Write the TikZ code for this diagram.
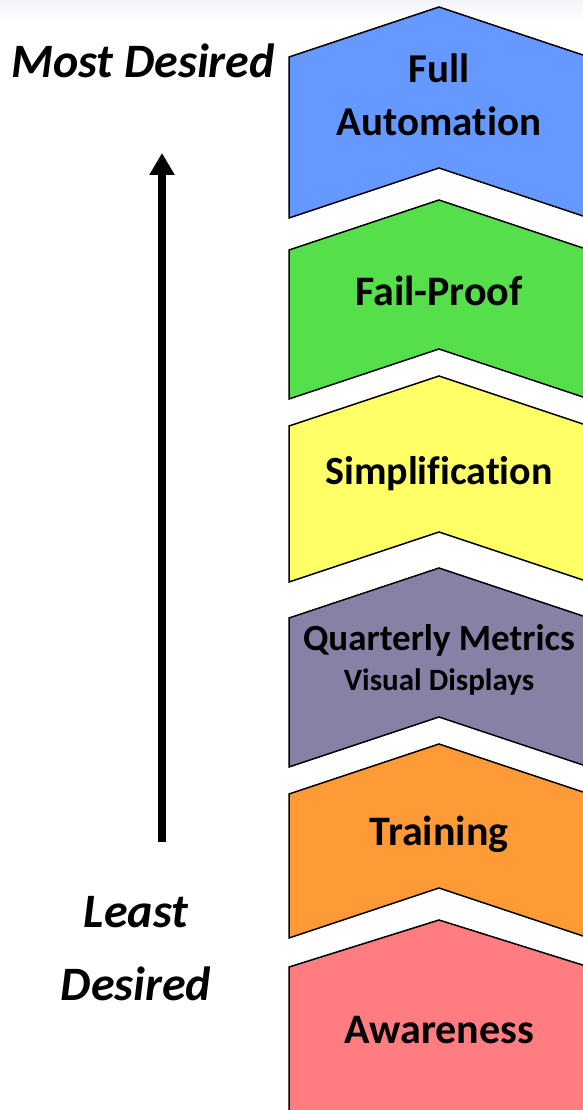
\documentclass[tikz,border=0pt]{standalone}
\usepackage{fontspec}
\setmainfont{Carlito}[Ligatures={NoCommon}]
\usepackage{tikz}
\usetikzlibrary{arrows.meta,calc,positioning}

\definecolor{lvlblue}{HTML}{6699FF}
\definecolor{lvlgreen}{HTML}{55DF4B}
\definecolor{lvlyellow}{HTML}{FFFF66}
\definecolor{lvlpurple}{HTML}{8781A6}
\definecolor{lvlorange}{HTML}{FF9B36}
\definecolor{lvlred}{HTML}{FF7C80}
\definecolor{topband}{HTML}{F2F4F9}

% chevron: fill colour, apex y, notch y
\newcommand{\chev}[3]{%
  \draw[lvl, fill=#1] (289,#2+50) -- (439,#2) -- (589,#2+50) -- (589,#3+50)
      -- (439,#3) -- (289,#3+50) -- cycle;}

\begin{document}
\begin{tikzpicture}[x=1pt, y=-1pt,
    lvl/.style={draw=black, line width=1.5pt, line join=miter},
    txt/.style={anchor=base, inner sep=0pt, font=\bfseries},
    side/.style={anchor=base, inner sep=0pt, font=\bfseries\itshape\fontsize{48}{52}\selectfont}]

    \useasboundingbox (0,0) rectangle (583,1110);
    \shade[top color=topband, bottom color=white] (0,0) rectangle (583,22);

    \chev{lvlblue}{7}{168}
    \chev{lvlgreen}{200}{349}
    \chev{lvlyellow}{376}{532}
    \chev{lvlpurple}{568}{717}
    \chev{lvlorange}{744}{888}
    \draw[lvl, fill=lvlred] (289,967) -- (439,920) -- (589,967) -- (589,1125) -- (289,1125) -- cycle;

    \node[txt, font=\bfseries\fontsize{41}{44}\selectfont] (full)  at (439,83)   {Full};
    \node[txt, font=\bfseries\fontsize{41}{44}\selectfont] (auto)  at (439,136)  {Automation};
    \node[txt, font=\bfseries\fontsize{42}{44}\selectfont] (fail)  at (439,305)  {Fail-Proof};
    \node[txt, font=\bfseries\fontsize{40}{44}\selectfont] (simp)  at (439,484)  {Simplification};
    \node[txt, font=\bfseries\fontsize{37}{40}\selectfont] (metr)  at (439,650)  {Quarterly Metrics};
    \node[txt, font=\bfseries\fontsize{31}{34}\selectfont] (disp)  at (439,690)  {Visual Displays};
    \node[txt, font=\bfseries\fontsize{42}{44}\selectfont] (train) at (439,845)  {Training};
    \node[txt, font=\bfseries\fontsize{42}{44}\selectfont] (aware) at (439,1043) {Awareness};

    \node[side] (most)   at (143,78)   {Most Desired};
    \node[side] (least)  at (136,927)  {Least};
    \node[side] (lowdes) at (136,1000) {Desired};

    \coordinate (lo) at (162,842);
    \coordinate (hi) at (162,153);
    \draw[line width=8pt, -{Triangle[length=22pt, width=24pt]}] (lo) -- (hi);

\end{tikzpicture}
\end{document}
